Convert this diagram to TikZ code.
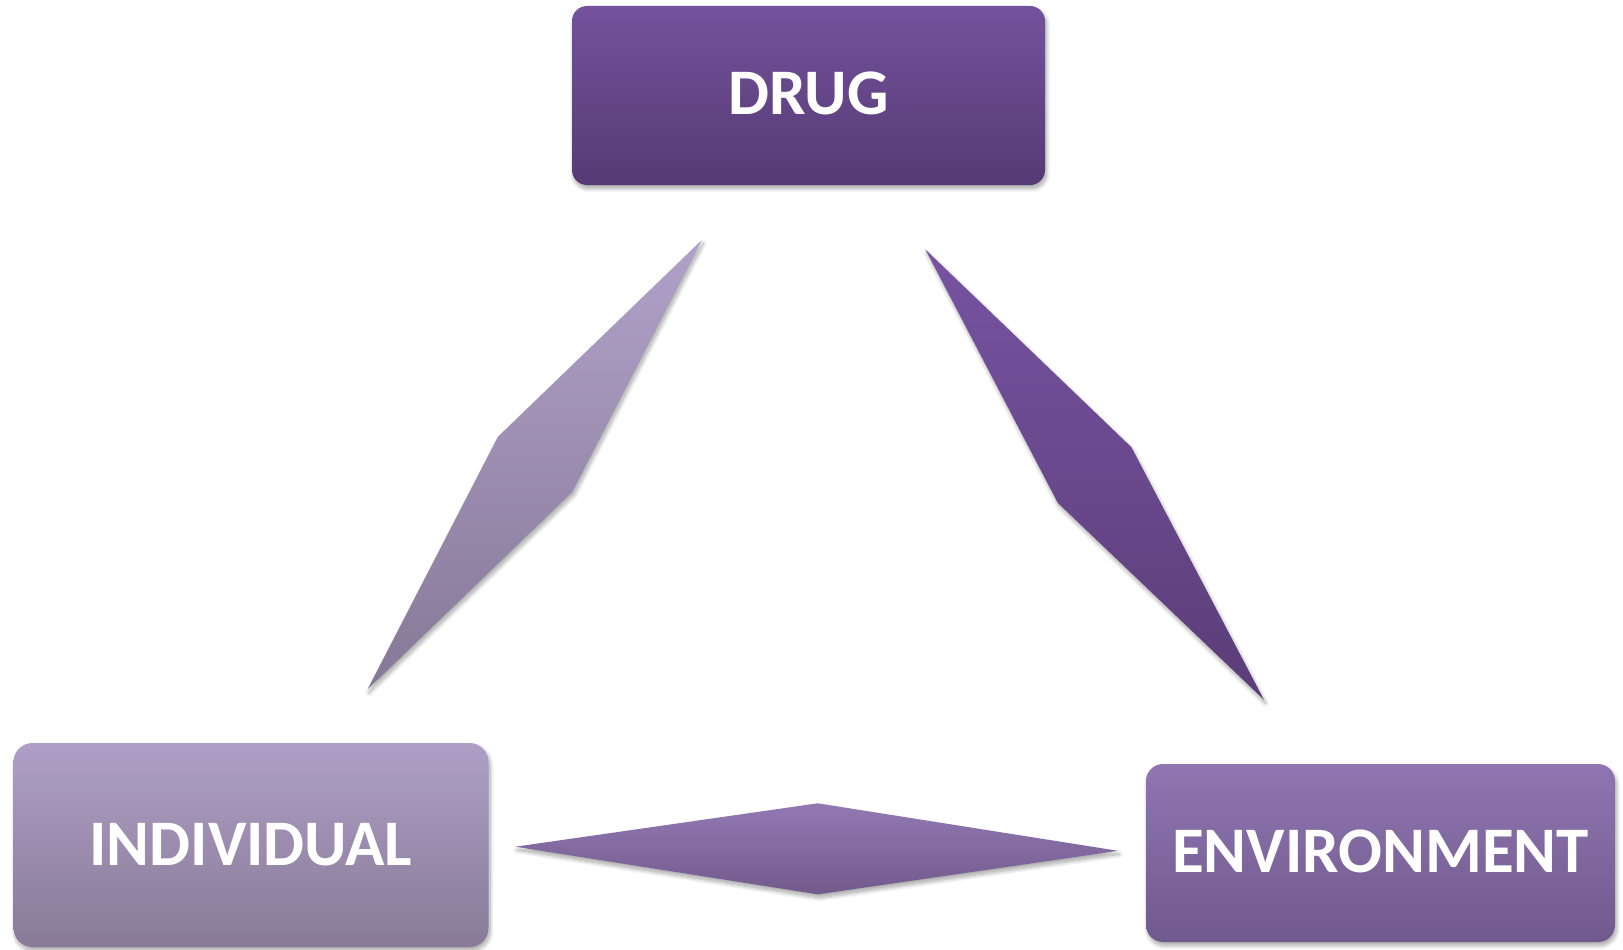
\documentclass[tikz,border=0pt]{standalone}
\usepackage{fontspec}
\setmainfont{Carlito}
\usetikzlibrary{shadows.blur}
\definecolor{drugtop}{RGB}{116,82,156}
\definecolor{drugbot}{RGB}{85,58,116}
\definecolor{indtop}{RGB}{175,159,198}
\definecolor{indbot}{RGB}{136,122,152}
\definecolor{envtop}{RGB}{143,118,178}
\definecolor{envbot}{RGB}{112,89,140}
\definecolor{ldtop}{RGB}{177,161,201}
\definecolor{ldbot}{RGB}{134,121,151}
\definecolor{rdtop}{RGB}{119,83,161}
\definecolor{rdbot}{RGB}{91,61,120}
\definecolor{bdtop}{RGB}{146,121,179}
\definecolor{bdbot}{RGB}{114,90,140}
\begin{document}
\begin{tikzpicture}[x=1pt,y=-1pt,
  softshadow/.style={blur shadow={shadow xshift=1.5pt, shadow yshift=-3.5pt, shadow blur radius=4pt, shadow blur steps=10, shadow opacity=35}},
  box/.style={rectangle, inner sep=0pt, text=white, softshadow,
    font=\bfseries\fontsize{65}{70}\selectfont},
  lozenge/.style={softshadow}]
\useasboundingbox (0,0) rectangle (1623,950);
\node[box, rounded corners=15pt, minimum width=473pt, minimum height=179pt,
  text depth=4pt, top color=drugtop, bottom color=drugbot] (drug) at (808.5,95.5) {DRUG};
\node[box, rounded corners=19pt, minimum width=475pt, minimum height=204pt,
  top color=indtop, bottom color=indbot] (ind) at (251,845) {INDIVIDUAL};
\node[box, rounded corners=17pt, minimum width=469pt, minimum height=178pt,
  text depth=3pt, top color=envtop, bottom color=envbot] (env) at (1380.5,853) {ENVIRONMENT};
% left link (drug -- individual)
\path[lozenge, top color=ldtop, bottom color=ldbot]
  (701.8,240) -- (497.9,436.8) -- (367.5,689.4) -- (572.4,491.7) -- cycle;
% right link (drug -- environment)
\path[lozenge, top color=rdtop, bottom color=rdbot]
  (925.4,249.5) -- (1131.4,447.2) -- (1263.9,699.7) -- (1057.9,503) -- cycle;
% bottom link (individual -- environment)
\path[lozenge, top color=bdtop, bottom color=bdbot]
  (515.5,846.7) -- (817.7,803.3) -- (1117.9,850.8) -- (817.7,894.3) -- cycle;
\end{tikzpicture}
\end{document}
